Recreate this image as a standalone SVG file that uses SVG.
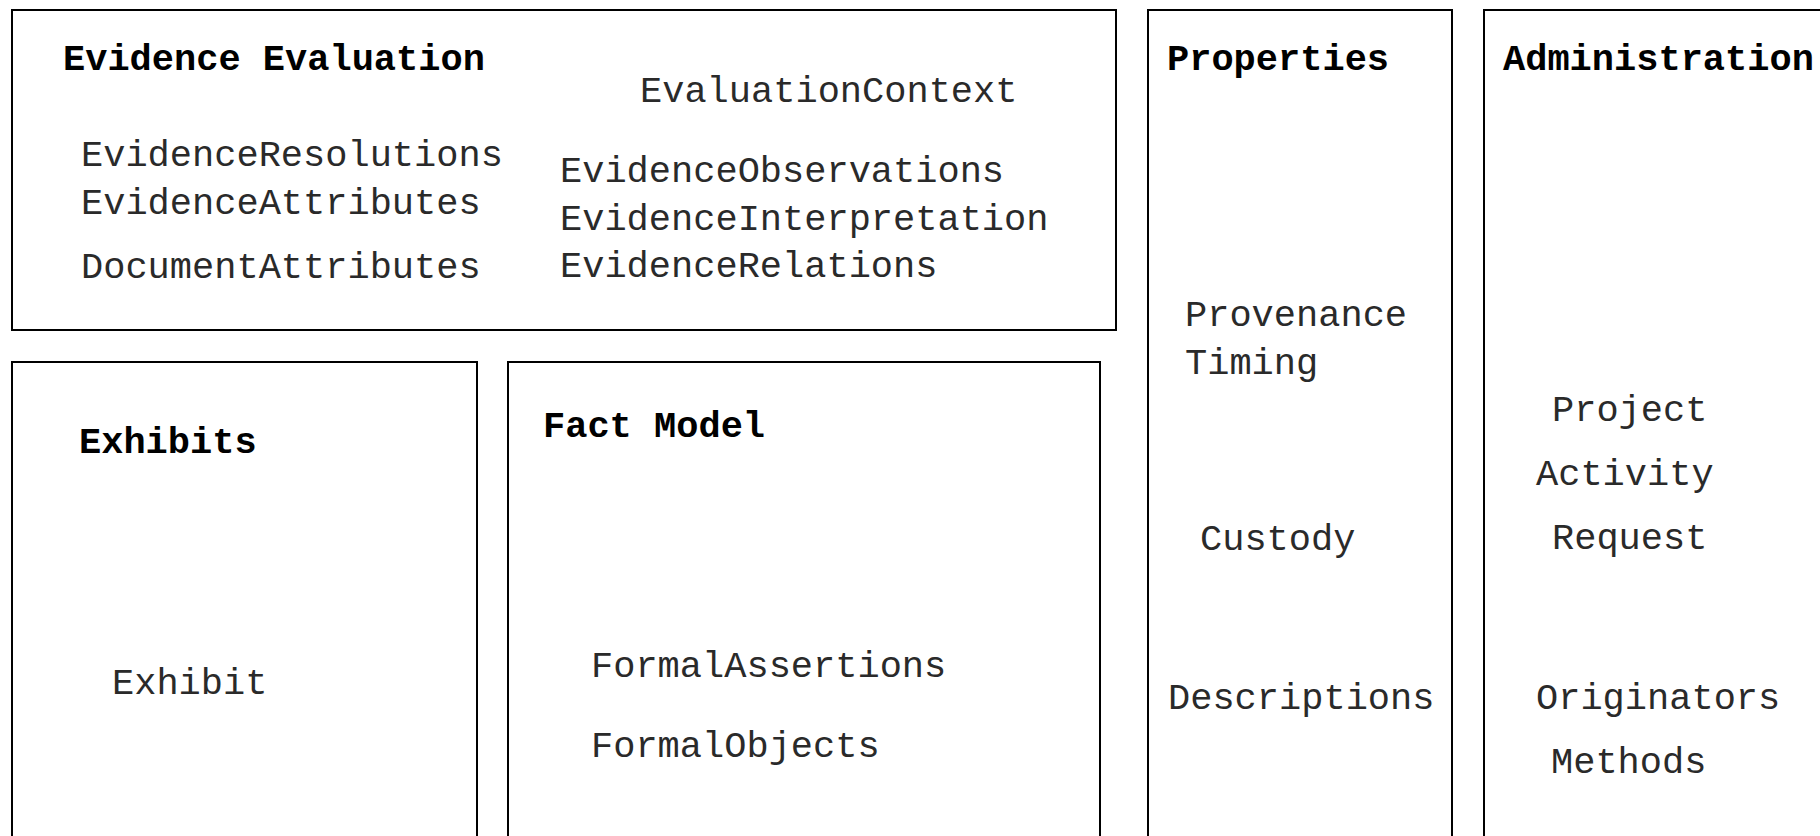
<svg xmlns="http://www.w3.org/2000/svg" width="1820" height="836" viewBox="0 0 1820 836">
  <style>
    .box { fill: #ffffff; stroke: #000000; stroke-width: 2; }
    .title { font-family: "Courier New", "Nimbus Mono PS", "FreeMono", "Liberation Mono", monospace; font-size: 37px; font-weight: bold; fill: #000000; }
    .item { font-family: "Courier New", "Nimbus Mono PS", "FreeMono", "Liberation Mono", monospace; font-size: 37px; fill: #2a2a2a; }
  </style>
  <rect x="0" y="0" width="1820" height="836" fill="#ffffff"/>

  <g id="evidence-evaluation">
    <rect class="box" x="12" y="10" width="1104" height="320"/>
    <text class="title" x="63" y="70">Evidence Evaluation</text>
    <text class="item" x="640" y="102">EvaluationContext</text>
    <text class="item" x="81" y="166">EvidenceResolutions</text>
    <text class="item" x="81" y="214">EvidenceAttributes</text>
    <text class="item" x="81" y="278">DocumentAttributes</text>
    <text class="item" x="560" y="182">EvidenceObservations</text>
    <text class="item" x="560" y="230">EvidenceInterpretation</text>
    <text class="item" x="560" y="277">EvidenceRelations</text>
  </g>

  <g id="exhibits">
    <rect class="box" x="12" y="362" width="465" height="520"/>
    <text class="title" x="79" y="453">Exhibits</text>
    <text class="item" x="112" y="694">Exhibit</text>
  </g>

  <g id="fact-model">
    <rect class="box" x="508" y="362" width="592" height="520"/>
    <text class="title" x="543" y="437">Fact Model</text>
    <text class="item" x="591" y="677">FormalAssertions</text>
    <text class="item" x="591" y="757">FormalObjects</text>
  </g>

  <g id="properties">
    <rect class="box" x="1148" y="10" width="304" height="872"/>
    <text class="title" x="1167" y="70">Properties</text>
    <text class="item" x="1185" y="326">Provenance</text>
    <text class="item" x="1185" y="374">Timing</text>
    <text class="item" x="1200" y="550">Custody</text>
    <text class="item" x="1168" y="709">Descriptions</text>
  </g>

  <g id="administration">
    <rect class="box" x="1484" y="10" width="400" height="872"/>
    <text class="title" x="1503" y="70">Administration</text>
    <text class="item" x="1552" y="421">Project</text>
    <text class="item" x="1536" y="485">Activity</text>
    <text class="item" x="1552" y="549">Request</text>
    <text class="item" x="1536" y="709">Originators</text>
    <text class="item" x="1551" y="773">Methods</text>
  </g>

  <g id="connectors"></g>
</svg>
